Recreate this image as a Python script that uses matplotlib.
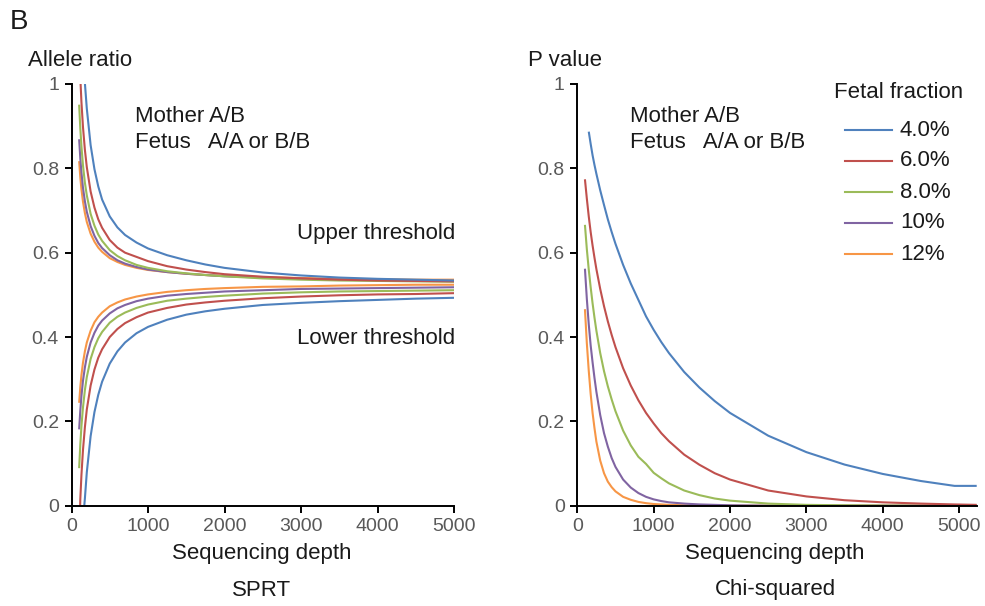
import numpy as np
import matplotlib
matplotlib.use("Agg")
import matplotlib.pyplot as plt
from matplotlib.lines import Line2D

plt.rcParams['font.family'] = ['Liberation Sans', 'DejaVu Sans']

# ---------------- data ----------------
fractions = ["4.0%", "6.0%", "8.0%", "10%", "12%"]
colors = ["#4F81BD", "#C0504D", "#9BBB59", "#8064A2", "#F79646"]

# SPRT thresholds (left panel)
sprt_depth = [100, 115, 130, 150, 175, 200, 250, 300, 350, 400, 500, 600, 700, 850,
              1000, 1250, 1500, 1750, 2000, 2500, 3000, 3500, 4000, 4500, 5000]
N = None
upper_4 = [N, N, N, N, N, 0.942, 0.855, 0.798, 0.757, 0.726, 0.686, 0.660, 0.642, 0.624,
           0.610, 0.594, 0.582, 0.572, 0.564, 0.553, 0.546, 0.541, 0.538, 0.536, 0.534]
upper_6 = [N, N, 0.957, 0.898, 0.844, 0.803, 0.745, 0.707, 0.679, 0.659, 0.630, 0.612, 0.600, 0.590,
           0.580, 0.568, 0.560, 0.554, 0.549, 0.543, 0.539, 0.536, 0.534, 0.533, 0.532]
upper_8 = [0.951, 0.895, 0.852, 0.807, 0.766, 0.736, 0.692, 0.664, 0.643, 0.628, 0.606, 0.592, 0.582, 0.571,
           0.564, 0.556, 0.551, 0.547, 0.544, 0.539, 0.536, 0.534, 0.533, 0.532, 0.531]
upper_10 = [0.869, 0.824, 0.790, 0.754, 0.722, 0.697, 0.663, 0.640, 0.623, 0.611, 0.594, 0.582, 0.574, 0.566,
            0.560, 0.554, 0.550, 0.547, 0.544, 0.541, 0.538, 0.536, 0.535, 0.534, 0.533]
upper_12 = [0.817, 0.779, 0.750, 0.721, 0.694, 0.673, 0.645, 0.626, 0.612, 0.602, 0.587, 0.578, 0.571, 0.564,
            0.559, 0.554, 0.550, 0.547, 0.545, 0.542, 0.540, 0.538, 0.537, 0.536, 0.536]
lower_4 = [N, N, N, N, 0.017, 0.079, 0.165, 0.222, 0.263, 0.294, 0.337, 0.366, 0.387, 0.409,
           0.424, 0.441, 0.453, 0.461, 0.467, 0.476, 0.481, 0.485, 0.488, 0.491, 0.493]
lower_6 = [N, 0.015, 0.073, 0.132, 0.186, 0.228, 0.285, 0.323, 0.351, 0.371, 0.400, 0.419, 0.433, 0.447,
           0.458, 0.469, 0.477, 0.482, 0.486, 0.492, 0.496, 0.499, 0.501, 0.502, 0.504]
lower_8 = [0.089, 0.145, 0.189, 0.233, 0.274, 0.305, 0.348, 0.376, 0.397, 0.412, 0.434, 0.448, 0.458, 0.469,
           0.477, 0.486, 0.491, 0.495, 0.498, 0.503, 0.506, 0.508, 0.509, 0.510, 0.511]
lower_10 = [0.181, 0.226, 0.260, 0.296, 0.328, 0.353, 0.387, 0.410, 0.427, 0.439, 0.456, 0.468, 0.476, 0.485,
            0.491, 0.498, 0.502, 0.505, 0.508, 0.511, 0.514, 0.515, 0.516, 0.517, 0.518]
lower_12 = [0.244, 0.281, 0.310, 0.339, 0.366, 0.387, 0.415, 0.435, 0.448, 0.458, 0.473, 0.482, 0.489, 0.496,
            0.501, 0.507, 0.511, 0.514, 0.516, 0.519, 0.520, 0.522, 0.523, 0.524, 0.524]
# depth where a curve leaves the plotted range (top at 1 / bottom at 0)
upper_exit_depth = [176, 119, None, None, None]
lower_exit_depth = [167, 113, None, None, None]

# Chi-squared P values (right panel)
pv_depth = [100, 125, 150, 175, 200, 225, 250, 300, 350, 400, 450, 500, 600, 700, 800, 900, 1000, 1100,
            1200, 1400, 1600, 1800, 2000, 2500, 3000, 3500, 4000, 4500, 4940, 5230]
pv_4 = [N, N, 0.887, 0.858, 0.831, 0.808, 0.787, 0.748, 0.713, 0.679, 0.649, 0.621, 0.571, 0.527, 0.488,
        0.449, 0.417, 0.388, 0.362, 0.317, 0.280, 0.248, 0.220, 0.166, 0.127, 0.0975, 0.0753, 0.0585, 0.047, 0.047]
pv_6 = [0.774, 0.728, 0.686, 0.649, 0.617, 0.588, 0.561, 0.514, 0.473, 0.437, 0.405, 0.376, 0.326, 0.285, 0.250,
        0.220, 0.195, 0.172, 0.153, 0.121, 0.097, 0.077, 0.062, 0.036, 0.022, 0.013, 0.008, 0.005, 0.003, 0.002]
pv_8 = [0.666, 0.608, 0.560, 0.518, 0.480, 0.446, 0.415, 0.362, 0.319, 0.283, 0.252, 0.224, 0.178, 0.143, 0.116,
        0.099, 0.078, 0.065, 0.053, 0.036, 0.025, 0.017, 0.012, 0.005, 0.002, 0.001, 0.0003, 0.0001, 0.0, 0.0]
pv_10 = [0.562, 0.490, 0.430, 0.380, 0.340, 0.303, 0.270, 0.215, 0.172, 0.140, 0.113, 0.092, 0.062, 0.043, 0.030,
         0.021, 0.015, 0.011, 0.008, 0.005, 0.003, 0.002, 0.001, 0.0, 0.0, 0.0, 0.0, 0.0, 0.0, 0.0]
pv_12 = [0.466, 0.385, 0.320, 0.265, 0.220, 0.184, 0.152, 0.107, 0.077, 0.057, 0.044, 0.034, 0.021, 0.014, 0.009,
         0.006, 0.004, 0.003, 0.002, 0.001, 0.0005, 0.0, 0.0, 0.0, 0.0, 0.0, 0.0, 0.0, 0.0, 0.0]

x_ticks = [0, 1000, 2000, 3000, 4000, 5000]
y_ticks = [0, 0.2, 0.4, 0.6, 0.8, 1]
y_ticklabels = ["0", "0.2", "0.4", "0.6", "0.8", "1"]

# ---------------- figure ----------------
W, H = 985, 606
fig = plt.figure(figsize=(W / 100, H / 100), dpi=100)
fig.patch.set_facecolor("white")

def px_axes(x0, x1, y_top, y_bot):
    return fig.add_axes([x0 / W, 1 - y_bot / H, (x1 - x0) / W, (y_bot - y_top) / H])

axL = px_axes(71.5, 454.0, 84.0, 505.7)
axR = px_axes(577.3, 976.7, 84.0, 505.7)

TICK_COLOR = "#595959"
TXT = "#1a1a1a"
FS = 16
TFS = 14

def style(ax, xmax):
    ax.set_xlim(0, xmax)
    ax.set_ylim(0, 1)
    for s in ["top", "right"]:
        ax.spines[s].set_visible(False)
    for s in ["left", "bottom"]:
        ax.spines[s].set_linewidth(1.4)
        ax.spines[s].set_color("black")
    ax.set_xticks(x_ticks)
    ax.set_xticklabels([str(t) for t in x_ticks])
    ax.set_yticks(y_ticks)
    ax.set_yticklabels(y_ticklabels)
    ax.tick_params(direction="out", length=5, width=1.4, color="black",
                   labelsize=TFS, labelcolor=TICK_COLOR, pad=4)
    ax.patch.set_alpha(0)

def series(depth, vals, exit_depth=None, exit_val=None):
    d = [x for x, v in zip(depth, vals) if v is not None]
    v = [v for v in vals if v is not None]
    if exit_depth is not None:
        d = [exit_depth] + d
        v = [exit_val] + v
    return d, v

uppers = [upper_4, upper_6, upper_8, upper_10, upper_12]
lowers = [lower_4, lower_6, lower_8, lower_10, lower_12]
pvs = [pv_4, pv_6, pv_8, pv_10, pv_12]

style(axL, 5000)
style(axR, 5230)

LW = 1.5
for i in range(4, -1, -1):
    d, v = series(sprt_depth, uppers[i], upper_exit_depth[i], 1.0)
    axL.plot(d, v, color=colors[i], lw=LW, solid_capstyle="butt", solid_joinstyle="round")
    d, v = series(sprt_depth, lowers[i], lower_exit_depth[i], 0.0)
    axL.plot(d, v, color=colors[i], lw=LW, solid_capstyle="butt", solid_joinstyle="round")

for i in range(4, -1, -1):
    d, v = series(pv_depth, pvs[i])
    axR.plot(d, v, color=colors[i], lw=LW, solid_capstyle="butt", solid_joinstyle="round")

def ftext(x, y, s, ha="left", size=FS, color=TXT, **kw):
    fig.text(x / W, 1 - y / H, s, ha=ha, va="center", fontsize=size, color=color, **kw)

ftext(10, 22, "B", size=20)
ftext(28, 60, "Allele ratio")
ftext(528, 60, "P value")

ftext(135, 116, "Mother A/B")
ftext(135, 142, "Fetus   A/A or B/B")
ftext(455, 233, "Upper threshold", ha="right")
ftext(455, 338, "Lower threshold", ha="right")
ftext(262, 553, "Sequencing depth", ha="center")
ftext(262, 590, "SPRT", ha="center")

ftext(630, 116, "Mother A/B")
ftext(630, 142, "Fetus   A/A or B/B")
ftext(775, 553, "Sequencing depth", ha="center")
ftext(775, 590, "Chi-squared", ha="center")

ftext(834, 93, "Fetal fraction")
leg_y = [130, 161, 192, 223, 254]
for i, lab in enumerate(fractions):
    yy = 1 - leg_y[i] / H
    fig.add_artist(Line2D([845 / W, 892 / W], [yy, yy], color=colors[i], lw=LW))
    ftext(900, leg_y[i], lab)

fig.savefig("out.png", dpi=100, facecolor="white")
